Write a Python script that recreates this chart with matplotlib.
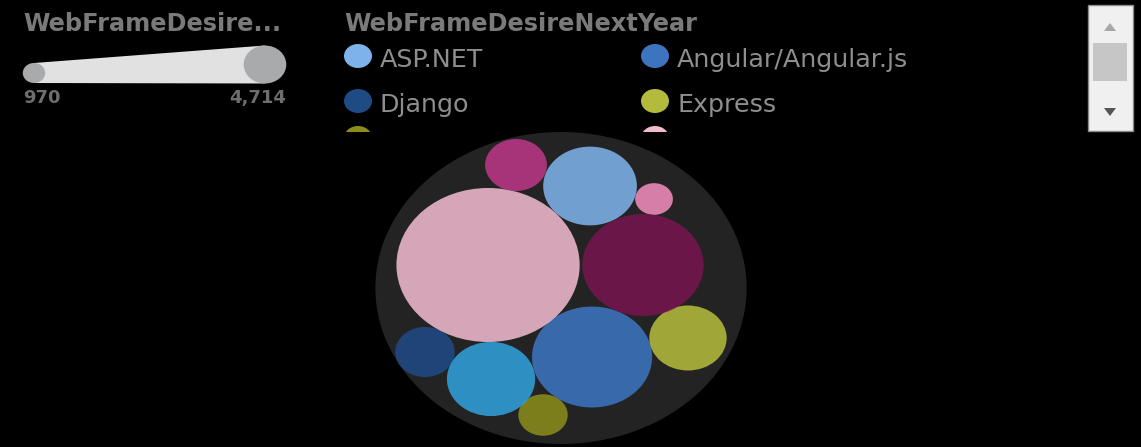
import matplotlib
matplotlib.use("Agg")
import matplotlib.pyplot as plt
from matplotlib.patches import Circle, Rectangle, Polygon, Ellipse
from matplotlib.transforms import Bbox, TransformedBbox
import numpy as np

# ---------------- data ----------------
frameworks = ["ASP.NET", "Angular/Angular.js", "Django", "Express", "Flask",
              "React.js", "Ruby on Rails", "Spring", "Vue.js", "jQuery"]
desire_counts = [2410, 3090, 1530, 1990, 1270, 4714, 970, 1590, 3120, 2270]
palette = ["#7db3ea", "#3c74c0", "#1f4b85", "#b4ba3c", "#8a8d1b",
           "#f0bacf", "#f08cbd", "#bc3787", "#77154e", "#30a0dc"]
size_title = "WebFrameDesire..."
color_title = "WebFrameDesireNextYear"

# packed-bubble layout (centre offsets, in pixel-height units, from pack centre)
layout_x = [24.4, 26.1, -114.3, 106.7, -15.1, -61.3, 78.2, -37.8, 68.9, -58.8]
layout_y = [102, -69, -64, -50, -127, 23, 89, 123, 23, -91]

W, H = 1141, 447
STRETCH = 1.19           # horizontal stretch of the rendering
BG = "black"
TITLE_C = "#7a7a7a"
LABEL_C = "#8e8e8e"

fig = plt.figure(figsize=(W / 100, H / 100), dpi=100, facecolor=BG)

# ---------------- bubble chart ----------------
ax = fig.add_axes([0, 0, 1, 1])
ax.set_facecolor(BG)
cx_px, cy_px = 561, 288
ax.set_xlim(-cx_px / STRETCH, (W - cx_px) / STRETCH)
ax.set_ylim(-(H - cy_px), cy_px)
ax.axis("off")

max_r = 77.0
rscale = max_r / max(desire_counts)
radii = [v * rscale for v in desire_counts]
enclose = max(np.hypot(x, y) + r for x, y, r in zip(layout_x, layout_y, radii))
ax.add_patch(Circle((0, 0), enclose, facecolor="#232323", edgecolor="none", zorder=1))
for x, y, r, c in zip(layout_x, layout_y, radii, palette):
    ax.add_patch(Circle((x, y), r, facecolor=c, edgecolor="none", alpha=0.87, zorder=2))

# ---------------- overlay (legends, scrollbar) ----------------
ov = fig.add_axes([0, 0, 1, 1])
ov.set_xlim(0, W)
ov.set_ylim(H, 0)
ov.patch.set_alpha(0)
ov.axis("off")

# size legend
ov.text(23, 31, size_title, fontsize=17.3, fontweight="bold", color=TITLE_C,
        ha="left", va="baseline")
sx0, sy0, sr0 = 34, 73, 10
sx1, sy1, sr1 = 265, 64.5, 19
ov.add_patch(Polygon([(sx0, sy0 - sr0), (sx1, sy1 - sr1), (sx1, sy1 + sr1), (sx0, sy0 + sr0)],
                     closed=True, facecolor="#e0e1e0", edgecolor="none", zorder=2))
ov.add_patch(Ellipse((sx1, sy1), 2 * sr1 * 1.12, 2 * sr1, facecolor="#a8aaac",
                     edgecolor="none", zorder=3))
ov.add_patch(Ellipse((sx0, sy0), 2 * sr0 * 1.12, 2 * sr0, facecolor="#a8aaac",
                     edgecolor="none", zorder=3))
ov.text(23, 103, f"{min(desire_counts):,}", fontsize=13, fontweight="bold",
        color="#6e6e6e", ha="left", va="baseline")
ov.text(286, 103, f"{max(desire_counts):,}", fontsize=13, fontweight="bold",
        color="#6e6e6e", ha="right", va="baseline")

# colour legend (scrollable area clipped at its bottom edge)
ov.text(344, 31, color_title, fontsize=17.3, fontweight="bold", color=TITLE_C,
        ha="left", va="baseline")
mark_clip = TransformedBbox(Bbox([[330, 0], [1070, 132]]), ov.transData)
text_clip = TransformedBbox(Bbox([[330, 0], [1070, 129]]), ov.transData)
col_x = [358, 655]
row_y = [56, 101, 138, 183, 228]
for i, (name, c) in enumerate(zip(frameworks, palette)):
    mx = col_x[i % 2]
    my = row_y[i // 2]
    e = Ellipse((mx, my), 28, 24, facecolor=c, edgecolor="none", zorder=3)
    ov.add_patch(e)
    e.set_clip_box(mark_clip)
    e.set_clip_on(True)
    t = ov.text(mx + 22, my + 11, name, fontsize=18.3, color=LABEL_C,
                ha="left", va="baseline", zorder=3, clip_on=True)
    t.set_clip_box(text_clip)

# scrollbar
ov.add_patch(Rectangle((1088, 5), 45, 126, facecolor="#f0f0f0", edgecolor="#8a8a8a",
                       linewidth=1, zorder=3))
ov.add_patch(Polygon([(1104, 31), (1116, 31), (1110, 23)], closed=True,
                     facecolor="#a6a6a6", edgecolor="none", zorder=4))
ov.add_patch(Rectangle((1093, 43), 34, 38, facecolor="#c6c6c6", edgecolor="none", zorder=4))
ov.add_patch(Polygon([(1104, 108), (1116, 108), (1110, 116)], closed=True,
                     facecolor="#555555", edgecolor="none", zorder=4))

fig.savefig("out.png", dpi=100, facecolor=BG)
